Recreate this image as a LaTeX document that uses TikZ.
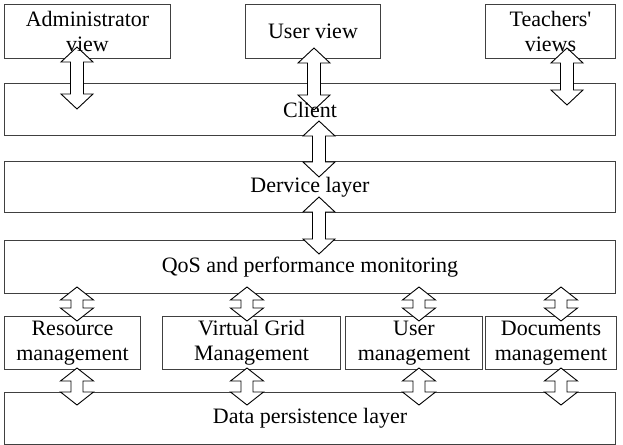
\documentclass[tikz,border=0pt]{standalone}
\usepackage{fontspec}
\setmainfont{Liberation Serif}
\usetikzlibrary{calc}
\pgfdeclarelayer{frames}
\pgfdeclarelayer{arrows}
\pgfsetlayers{frames,arrows,main}
\tikzset{
  box/.style={inner sep=0pt, align=center, font=\fontsize{11}{12.5}\selectfont},
  blockarr/.style n args={3}{fill=white, draw=black, line width=0.45pt, line join=miter,
    to path={let \p1=(\tikztostart), \p2=(\tikztotarget) in
      (\x1,\y1) -- (\x1+#1,\y1-#2) -- (\x1+#3,\y1-#2) -- (\x1+#3,\y2+#2) -- (\x1+#1,\y2+#2)
      -- (\x2,\y2) -- (\x1-#1,\y2+#2) -- (\x1-#3,\y2+#2) -- (\x1-#3,\y1-#2) -- (\x1-#1,\y1-#2) -- cycle}},
  bigarr/.style={blockarr={8pt}{7.5pt}{3.25pt}},
  smallarr/.style={blockarr={8.25pt}{6.5pt}{3pt}}
}
\begin{document}
\begin{tikzpicture}[x=0.5pt, y=-0.5pt]
\useasboundingbox (0,0) rectangle (623,445);
\node[box, minimum width=82.5pt, minimum height=26.5pt] (admin) at (87.5,31.5) {Administrator\\view};
\node[box, minimum width=67pt, minimum height=26.5pt] (userview) at (313,31.5) {User view};
\node[box, minimum width=64.5pt, minimum height=26.5pt] (teachers) at (550.5,31.5) {Teachers\textquotesingle\\views};
\node[box, minimum width=305pt, minimum height=25.5pt] (client) at (310,109.5) {Client};
\node[box, minimum width=305pt, minimum height=25pt] (dervice) at (310,187) {Dervice layer};
\node[box, minimum width=305pt, minimum height=26pt] (qos) at (310,267) {QoS and performance monitoring};
\node[box, minimum width=67.5pt, minimum height=26pt] (resource) at (72.5,343) {Resource\\management};
\node[box, minimum width=88.5pt, minimum height=26pt] (vgrid) at (251.5,343) {Virtual Grid\\Management};
\node[box, minimum width=68pt, minimum height=26pt] (usermgmt) at (414,343) {User\\management};
\node[box, minimum width=65pt, minimum height=26pt] (docs) at (551,343) {Documents\\management};
\node[box, minimum width=305pt, minimum height=25.5pt] (data) at (310,418.5) {Data persistence layer};
\begin{pgfonlayer}{frames}
\foreach \bx in {admin,userview,teachers,client,dervice,qos,resource,vgrid,usermgmt,docs,data}
  \draw[black!75, line width=0.6pt] (\bx.north west) rectangle (\bx.south east);
\end{pgfonlayer}
\coordinate (adminTop) at (77,47);
\coordinate (adminBot) at (77,109);
\coordinate (userTop) at (314,48);
\coordinate (userBot) at (314,110);
\coordinate (teachTop) at (567,48);
\coordinate (teachBot) at (567,105);
\coordinate (clientTop) at (319,121);
\coordinate (clientBot) at (319,177);
\coordinate (derviceTop) at (319,197);
\coordinate (derviceBot) at (319,254);
\foreach \xx/\bx in {77/res,247/vgrid,419/user,561/docs}{
  \coordinate (\bx-upT) at (\xx,287);
  \coordinate (\bx-upB) at (\xx,321);
  \coordinate (\bx-loT) at (\xx,368);
  \coordinate (\bx-loB) at (\xx,405);
}
\begin{pgfonlayer}{arrows}
\draw[bigarr] (adminTop) to (adminBot);
\draw[bigarr] (userTop) to (userBot);
\draw[bigarr] (teachTop) to (teachBot);
\draw[bigarr] (clientTop) to (clientBot);
\draw[bigarr] (derviceTop) to (derviceBot);
\foreach \bx in {res,vgrid,user,docs}{
  \draw[smallarr] (\bx-upT) to (\bx-upB);
  \draw[smallarr] (\bx-loT) to (\bx-loB);
}
\end{pgfonlayer}
\end{tikzpicture}
\end{document}
